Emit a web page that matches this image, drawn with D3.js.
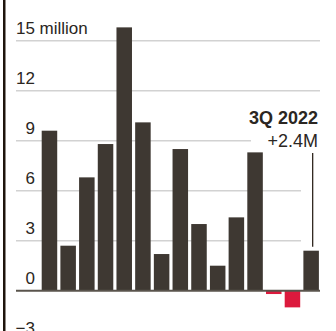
<!DOCTYPE html>
<html><head><meta charset="utf-8">
<script src="https://cdn.jsdelivr.net/npm/d3@7"></script>
<style>
html,body{margin:0;padding:0;background:#fff;}
svg{display:block;}
text{font-family:"Liberation Sans",Arial,sans-serif;fill:#2b2622;}
</style></head>
<body>
<svg id="c" width="336" height="331"></svg>
<script>
const categories = ["1Q 2019","2Q 2019","3Q 2019","4Q 2019","1Q 2020","2Q 2020","3Q 2020","4Q 2020","1Q 2021","2Q 2021","3Q 2021","4Q 2021","1Q 2022","2Q 2022","3Q 2022"];
const values = [9.6, 2.7, 6.8, 8.8, 15.8, 10.1, 2.2, 8.5, 4.0, 1.5, 4.4, 8.3, -0.2, -1.0, 2.4];
const tickValues = [-3, 0, 3, 6, 9, 12, 15];
const tickLabels = ["\u22123", "0", "3", "6", "9", "12", "15"];
const unitLabel = "million";
const annotTitle = "3Q 2022";
const annotValue = "+2.4M";

const svg = d3.select("#c");
const x = d3.scaleBand().domain(categories).range([41.7, 318.9]).paddingInner(0.17).paddingOuter(0);
const y = d3.scaleLinear().domain([-3, 15]).range([340.7, 40.7]);

const gridLeft = 16, gridRight = 320;
const lastCat = categories[categories.length - 1];
const leaderX = x(lastCat) + x.bandwidth() * 0.6;

// left rule
svg.append("rect").attr("x", 3).attr("y", 0).attr("width", 2.5).attr("height", 331).attr("fill", "#1e140c");

// gridlines
const gridEnd = v => {
  if (v === 9) return 251;
  if (v === 6 || v === 3) return 301;
  return gridRight;
};
svg.append("g").selectAll("line").data(tickValues.filter(v => v !== 0)).join("line")
  .attr("x1", gridLeft).attr("x2", d => gridEnd(d))
  .attr("y1", d => y(d)).attr("y2", d => y(d))
  .attr("stroke", "#d2d2d2").attr("stroke-width", 1.5);

// tick labels
const lbl = svg.append("g");
tickValues.forEach((v, i) => {
  lbl.append("text").attr("x", 35).attr("y", y(v) - 6.3)
    .attr("text-anchor", "end").attr("font-size", 17).text(tickLabels[i]);
});
lbl.append("text").attr("x", 39.5).attr("y", y(15) - 6.3)
  .attr("font-size", 17).text(unitLabel);

// bars
svg.append("g").selectAll("rect").data(values).join("rect")
  .attr("x", (d, i) => x(categories[i]))
  .attr("width", x.bandwidth())
  .attr("y", d => y(Math.max(0, d)))
  .attr("height", d => Math.abs(y(d) - y(0)))
  .attr("fill", d => d < 0 ? "#dc1a3d" : "#3e3832");

// zero line
svg.append("line").attr("x1", gridLeft).attr("x2", gridRight)
  .attr("y1", y(0)).attr("y2", y(0)).attr("stroke", "#5a544c").attr("stroke-width", 2);

// annotation
svg.append("text").attr("x", 318).attr("y", 124).attr("text-anchor", "end")
  .attr("font-size", 18).attr("font-weight", "bold").text(annotTitle);
svg.append("text").attr("x", 318).attr("y", 147.3).attr("text-anchor", "end")
  .attr("font-size", 18).text(annotValue);
svg.append("line").attr("x1", leaderX).attr("x2", leaderX)
  .attr("y1", 153).attr("y2", y(values[values.length - 1]) - 4)
  .attr("stroke", "#1e140c").attr("stroke-width", 1.2);
</script>
</body></html>
